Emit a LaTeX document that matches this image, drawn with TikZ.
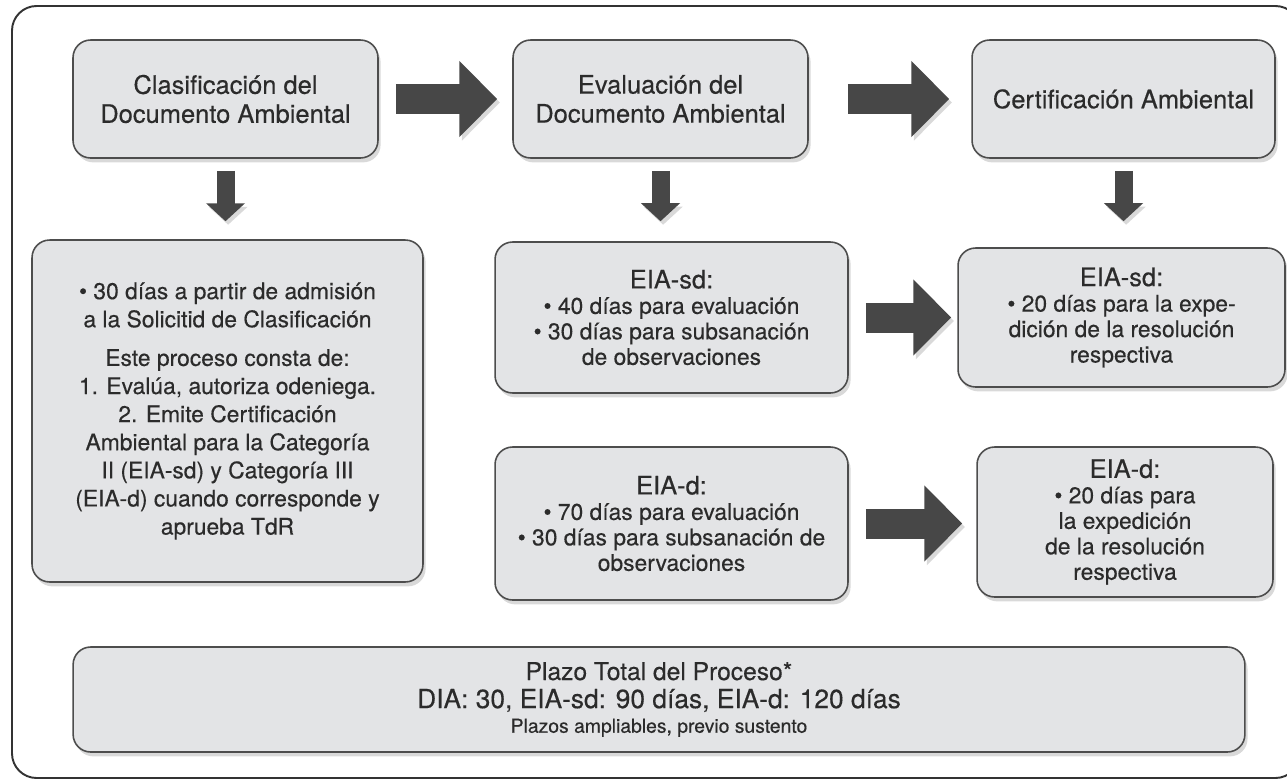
\documentclass[tikz,border=0pt]{standalone}
\usepackage{fontspec}
\setmainfont{TeX Gyre Heros}[FakeBold=0.35]
\usetikzlibrary{calc,arrows.meta,shadows}
\definecolor{boxfill}{HTML}{E3E4E6}
\definecolor{boxline}{HTML}{4D4D4D}
\definecolor{arrowgray}{HTML}{474747}
\definecolor{textgray}{HTML}{2B2B2B}

\tikzset{
  stage/.style={draw=boxline, line width=0.9pt, fill=boxfill, rounded corners=10pt,
    text=textgray, align=center, inner sep=0pt,
    drop shadow={shadow xshift=1.5pt, shadow yshift=-2.5pt, opacity=.3}},
  titlefont/.style={font=\fontsize{14.5}{16.5}\selectfont},
  bodyfont/.style={font=\fontsize{13}{14.5}\selectfont},
  bigarrow/.style={draw=arrowgray, line width=0.6cm,
    -{Triangle[length=0.76cm,width=1.48cm]},
    preaction={draw=black!15, transform canvas={xshift=1.5pt,yshift=-2pt}}},
  downarrow/.style={draw=arrowgray, line width=0.36cm,
    -{Triangle[length=0.36cm,width=0.76cm]},
    preaction={draw=black!15, transform canvas={xshift=1.5pt,yshift=-2pt}}}
}

\begin{document}
\begin{tikzpicture}[x=0.02cm,y=-0.02cm]
    \useasboundingbox (0,0) rectangle (1287,781);
    % outer frame, runs past the right edge
    \draw[line width=1.1pt, draw=black!80, rounded corners=14pt] (12,6) rectangle (1300,778);

    % top row
    \node[stage, titlefont, minimum width=6.1cm, minimum height=2.36cm] (Clas) at (225.5,99)
      {Clasificación del\\Documento Ambiental};
    \node[stage, titlefont, minimum width=5.9cm, minimum height=2.36cm] (Eval) at (660.5,99)
      {Evaluación del\\Documento Ambiental};
    \node[stage, titlefont, minimum width=6.06cm, minimum height=2.36cm] (Cert) at (1123.5,99)
      {Certificación Ambiental};

    % detail boxes
    \node[stage, font=\fontsize{13}{16}\selectfont, minimum width=7.82cm, minimum height=6.84cm] (ClasInfo) at (227.5,411)
      {\textbullet{} 30 días a partir de admisión\\a la Solicitid de Clasificación\\[6pt]
       Este proceso consta de:\\1. Evalúa, autoriza odeniega.\\2. Emite Certificación\\
       Ambiental para la Categoría\\II (EIA-sd) y Categoría III\\(EIA-d) cuando corresponde y\\aprueba TdR};
    \node[stage, bodyfont, minimum width=7.06cm, minimum height=3.02cm] (EvalSd) at (671.5,317.5)
      {{\fontsize{14.5}{14.5}\selectfont EIA-sd:}\\\textbullet{} 40 días para evaluación\\
       \textbullet{} 30 días para subsanación\\de observaciones};
    \node[stage, bodyfont, minimum width=7.06cm, minimum height=3.06cm] (EvalD) at (671.5,523.5)
      {{\fontsize{14.5}{14.5}\selectfont EIA-d:}\\\textbullet{} 70 días para evaluación\\
       \textbullet{} 30 días para subsanación de\\observaciones};
    \node[stage, bodyfont, minimum width=6.54cm, minimum height=2.78cm] (CertSd) at (1121.5,317.5)
      {{\fontsize{14.5}{14.5}\selectfont EIA-sd:}\\\textbullet{} 20 días para la expe-\\
       dición de la resolución\\respectiva};
    \node[stage, bodyfont, minimum width=5.92cm, minimum height=3.0cm] (CertD) at (1125,522)
      {{\fontsize{14.5}{14.5}\selectfont EIA-d:}\\\textbullet{} 20 días para\\la expedición\\
       de la resolución\\respectiva};

    % total
    \node[stage, font=\fontsize{14}{15}\selectfont, minimum width=23.44cm, minimum height=2.1cm] (Total) at (659,699.5)
      {Plazo Total del Proceso*\\[1pt]
       {\fontsize{15}{15}\selectfont DIA: 30, EIA-sd: 90 días, EIA-d: 120 días}\\[-1pt]
       {\fontsize{11}{11}\selectfont Plazos ampliables, previo sustento}};

    % arrows between stages
    \foreach \a/\b/\s/\e in {Clas/Eval/17/15, Eval/Cert/39/22, EvalSd/CertSd/17/6, EvalD/CertD/17/14}{
      \draw[bigarrow] ($(\a.east)+(\s,0)$) -- ($(\b.west |- \a.east)+(-\e,0)$);
    }
    \foreach \a/\b/\e in {Clas/ClasInfo/18, Eval/EvalSd/20, Cert/CertSd/26}{
      \draw[downarrow] ($(\a.south)+(0,12)$) -- ($(\a.south |- \b.north)+(0,-\e)$);
    }
\end{tikzpicture}
\end{document}
